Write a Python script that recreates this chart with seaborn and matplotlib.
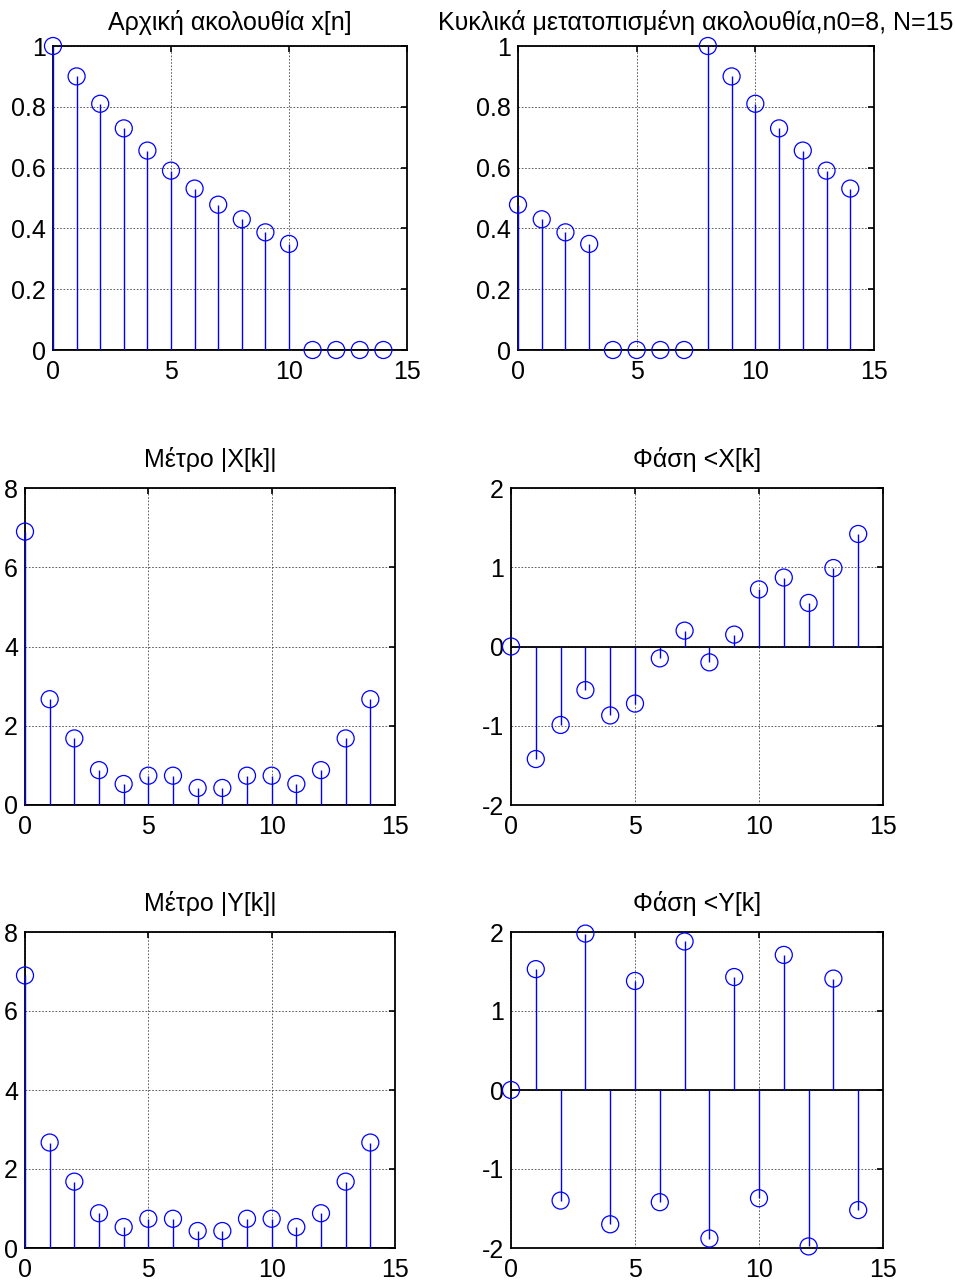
#!/usr/bin/env python3
import numpy as np
import pandas as pd
import matplotlib
matplotlib.use("Agg")
import matplotlib.pyplot as plt
import seaborn as sns

# δείκτες n / k
n = list(range(15))

# αρχική ακολουθία και κυκλικά μετατοπισμένη (n0=8, N=15)
x_n = [1.0, 0.9, 0.81, 0.729, 0.656, 0.59, 0.531, 0.478, 0.43, 0.387, 0.349, 0, 0, 0, 0]
y_n = [0.478, 0.43, 0.387, 0.349, 0, 0, 0, 0, 1.0, 0.9, 0.81, 0.729, 0.656, 0.59, 0.531]

# μέτρο και φάση των DFT
mag_X = [6.9, 2.67, 1.68, 0.88, 0.53, 0.74, 0.74, 0.43, 0.43, 0.74, 0.74, 0.53, 0.88, 1.68, 2.67]
ph_X = [0, -1.42, -0.99, -0.55, -0.87, -0.72, -0.15, 0.2, -0.2, 0.15, 0.72, 0.87, 0.55, 0.99, 1.42]
mag_Y = [6.9, 2.67, 1.68, 0.88, 0.53, 0.74, 0.74, 0.43, 0.43, 0.74, 0.74, 0.53, 0.88, 1.68, 2.67]
ph_Y = [0, 1.53, -1.40, 1.98, -1.70, 1.38, -1.42, 1.88, -1.88, 1.43, -1.37, 1.71, -1.98, 1.41, -1.52]

titles = ["Αρχική ακολουθία x[n]",
          "Κυκλικά μετατοπισμένη ακολουθία,n0=8, N=15",
          "Μέτρο |X[k]|", "Φάση <X[k]",
          "Μέτρο |Y[k]|", "Φάση <Y[k]"]
series = [x_n, y_n, mag_X, ph_X, mag_Y, ph_Y]
ylims = [(0, 1), (0, 1), (0, 8), (-2, 2), (0, 8), (-2, 2)]
yticks = [[0, 0.2, 0.4, 0.6, 0.8, 1], [0, 0.2, 0.4, 0.6, 0.8, 1],
          [0, 2, 4, 6, 8], [-2, -1, 0, 1, 2],
          [0, 2, 4, 6, 8], [-2, -1, 0, 1, 2]]
ytick_labels = [["0", "0.2", "0.4", "0.6", "0.8", "1"], ["0", "0.2", "0.4", "0.6", "0.8", "1"],
                ["0", "2", "4", "6", "8"], ["-2", "-1", "0", "1", "2"],
                ["0", "2", "4", "6", "8"], ["-2", "-1", "0", "1", "2"]]
xticks = [0, 5, 10, 15]

sns.set_style("white")
plt.rcParams['font.family'] = ['Liberation Sans', 'DejaVu Sans']
plt.rcParams['text.color'] = 'black'
FS = 18

W, H = 955, 1283
fig = plt.figure(figsize=(W / 100, H / 100), dpi=100)

# θέσεις των αξόνων σε pixels (left, top, right, bottom)
boxes = [(53, 46, 407, 350), (518, 46, 874, 350),
         (25, 488, 395, 805), (511, 488, 883, 805),
         (25, 932, 395, 1248), (511, 932, 883, 1248)]
title_pads = [11.5, 11.5, 15, 15, 15, 15]

for i in range(6):
    l, t, r, b = boxes[i]
    ax = fig.add_axes([l / W, 1 - b / H, (r - l) / W, (b - t) / H])
    df = pd.DataFrame({"k": n, "v": series[i]})

    # grid σε διακεκομμένες γραμμές
    ax.set_axisbelow(True)
    ax.grid(True, color="#444444", linestyle=(0, (2, 2)), linewidth=0.6)

    # γραμμή βάσης στο 0
    ax.axhline(0, color="black", linewidth=1.3, zorder=2)
    ax.vlines(df["k"], 0, df["v"], color="blue", linewidth=1.0, zorder=3)
    sns.scatterplot(data=df, x="k", y="v", ax=ax, marker="o", s=150,
                    facecolors="none", edgecolor="blue", linewidth=0.9,
                    zorder=4, clip_on=False, legend=False)

    ax.set_xlim(0, 15)
    ax.set_ylim(*ylims[i])
    ax.set_xticks(xticks)
    ax.set_xticklabels([str(v) for v in xticks])
    ax.set_yticks(yticks[i])
    ax.set_yticklabels(ytick_labels[i])
    ax.set_xlabel("")
    ax.set_ylabel("")
    ax.tick_params(direction="in", length=4, width=1.2, top=True, right=True,
                   labelsize=FS, colors="black")
    ax.tick_params(axis="x", pad=7)
    ax.tick_params(axis="y", pad=5)
    for s in ax.spines.values():
        s.set_color("black")
        s.set_linewidth(1.3)
    ax.set_title(titles[i], fontsize=FS, pad=title_pads[i], color="black")

fig.savefig("out.png", dpi=100)
